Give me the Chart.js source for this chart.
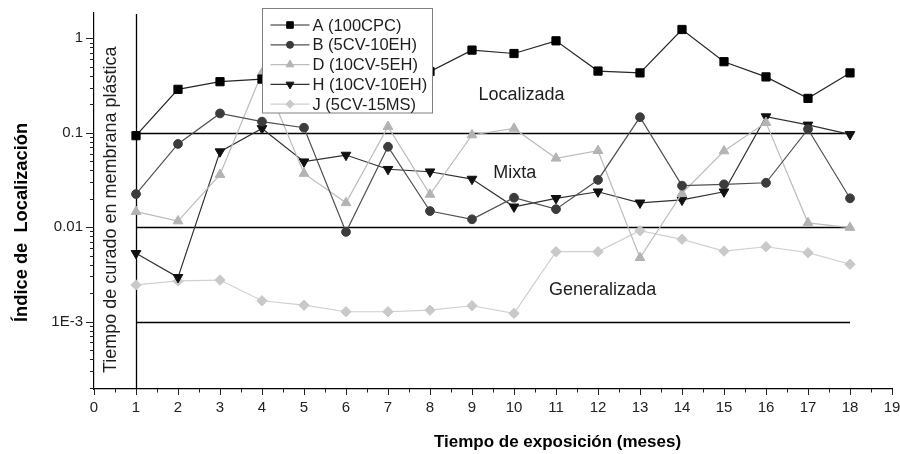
<!DOCTYPE html>
<html>
<head>
<meta charset="utf-8">
<script src="https://cdn.jsdelivr.net/npm/chart.js@4.4.0/dist/chart.umd.min.js"></script>
<style>
html,body{margin:0;padding:0;background:#fff;}
#wrap{width:900px;height:454px;position:relative;}
</style>
</head>
<body>
<div id="wrap"><canvas id="c" width="900" height="454"></canvas></div>
<script>
// ---- data ----
const months = [1,2,3,4,5,6,7,8,9,10,11,12,13,14,15,16,17,18];
const serieA = [0.093,0.288,0.347,0.37,0.45,0.5,0.6,0.445,0.75,0.69,0.94,0.45,0.43,1.24,0.565,0.39,0.231,0.43];
const serieB = [0.0224,0.076,0.16,0.131,0.113,0.0089,0.071,0.0148,0.0121,0.0205,0.0155,0.0316,0.146,0.0275,0.0284,0.0295,0.109,0.0202];
const serieD = [0.0146,0.0116,0.036,0.43,0.037,0.0181,0.116,0.0222,0.0946,0.111,0.0536,0.0645,0.00474,0.0228,0.064,0.128,0.0111,0.0099];
const serieH = [0.00528,0.00294,0.063,0.111,0.0493,0.058,0.041,0.0386,0.0323,0.0164,0.0202,0.0237,0.0181,0.0194,0.0237,0.148,0.121,0.096];
const serieJ = [0.00244,0.00269,0.00275,0.00166,0.00149,0.00127,0.00127,0.00132,0.00147,0.00122,0.0055,0.0055,0.00916,0.00743,0.00558,0.0062,0.00536,0.00404];
const seriesNames = ['A (100CPC)','B (5CV-10EH)','D (10CV-5EH)','H (10CV-10EH)','J (5CV-15MS)'];
const decadeValues = [1,0.1,0.01,0.001];
const decadeLabels = ['1','0.1','0.01','1E-3'];
const zoneLimits = [0.1,0.01,0.001];
const zoneNames = ['Localizada','Mixta','Generalizada'];
const zoneAnchorX = [10.18,10.02,12.11];
const zoneAnchorY = [0.25,0.037,0.00216];
const curingLabel = 'Tiempo de curado en membrana plástica';
const yTitle = 'Índice de  Localización';
const xTitle = 'Tiempo de exposición (meses)';
const yMin = 1.93e-4, yMax = 1.876, xMin = 0, xMax = 19;

const FONT = '"Liberation Sans", Arial, Helvetica, sans-serif';

function mk(label, values, marker, line, style, radius, rotation){
  return {
    label: label,
    data: months.map((m,i)=>({x:m, y:values[i]})),
    borderColor: line,
    backgroundColor: marker,
    pointBackgroundColor: marker,
    pointBorderColor: marker,
    pointStyle: style,
    pointRadius: radius,
    pointHoverRadius: radius,
    pointRotation: rotation || 0,
    pointBorderWidth: 1,
    borderWidth: 1.2,
    tension: 0,
    fill: false
  };
}

const datasets = [
  mk(seriesNames[0], serieA, '#000000', '#262626', 'rect', 5.8, 0),
  mk(seriesNames[1], serieB, '#3c3c3c', '#505050', 'circle', 4.4, 0),
  mk(seriesNames[2], serieD, '#b3b3b3', '#bcbcbc', 'triangle', 5.6, 0),
  mk(seriesNames[3], serieH, '#111111', '#303030', 'triangle', 5.6, 180),
  mk(seriesNames[4], serieJ, '#c9c9c9', '#d0d0d0', 'rectRot', 5.2, 0)
];

function drawMarker(ctx, ds, x, y, scaleF){
  const opts = {pointStyle: ds.pointStyle, rotation: ds.pointRotation, radius: ds.pointRadius*scaleF, borderWidth: 1};
  ctx.save();
  ctx.fillStyle = ds.pointBackgroundColor;
  ctx.strokeStyle = ds.pointBorderColor;
  ctx.lineWidth = 1;
  if (Chart.helpers && Chart.helpers.drawPoint) {
    Chart.helpers.drawPoint(ctx, opts, x, y);
  } else {
    ctx.beginPath(); ctx.arc(x,y,opts.radius,0,Math.PI*2); ctx.fill();
  }
  ctx.restore();
}

const refLinesPlugin = {
  id: 'refLines',
  beforeDatasetsDraw(chart){
    const {ctx, chartArea, scales:{x, y}} = chart;
    ctx.save();
    ctx.strokeStyle = '#000';
    ctx.lineWidth = 1.3;
    const x0 = x.getPixelForValue(months[0]);
    const x1 = x.getPixelForValue(months[months.length-1]);
    zoneLimits.forEach(v=>{
      const py = Math.round(y.getPixelForValue(v))+0.5;
      ctx.beginPath(); ctx.moveTo(x0, py); ctx.lineTo(x1, py); ctx.stroke();
    });
    ctx.beginPath();
    ctx.moveTo(Math.round(x0)+0.5, chartArea.top+1.5);
    ctx.lineTo(Math.round(x0)+0.5, chartArea.bottom);
    ctx.stroke();
    ctx.restore();
  }
};

const tickMarksPlugin = {
  id: 'tickMarks',
  afterDraw(chart){
    const {ctx, chartArea, scales:{x, y}} = chart;
    ctx.save();
    ctx.strokeStyle = '#222';
    ctx.lineWidth = 1;
    y.ticks.forEach(t=>{
      const py = Math.round(y.getPixelForValue(t.value))+0.5;
      const major = decadeValues.some(d=>Math.abs(d-t.value)/d < 1e-6);
      const len = major ? 8 : 4;
      ctx.beginPath(); ctx.moveTo(chartArea.left, py); ctx.lineTo(chartArea.left-len, py); ctx.stroke();
    });
    x.ticks.forEach(t=>{
      const px = Math.round(x.getPixelForValue(t.value))+0.5;
      ctx.beginPath(); ctx.moveTo(px, chartArea.bottom); ctx.lineTo(px, chartArea.bottom+6); ctx.stroke();
      if (t.value < xMax) {
        const pm = Math.round(x.getPixelForValue(t.value+0.5))+0.5;
        ctx.beginPath(); ctx.moveTo(pm, chartArea.bottom); ctx.lineTo(pm, chartArea.bottom+3.5); ctx.stroke();
      }
    });
    ctx.restore();
  }
};

const textsPlugin = {
  id: 'texts',
  afterDatasetsDraw(chart){
    const {ctx, chartArea, scales:{x, y}} = chart;
    ctx.save();
    ctx.fillStyle = '#1e1e1e';
    ctx.font = '18px ' + FONT;
    ctx.textAlign = 'center';
    ctx.textBaseline = 'middle';
    zoneNames.forEach((n,i)=>{
      ctx.fillText(n, x.getPixelForValue(zoneAnchorX[i]), y.getPixelForValue(zoneAnchorY[i]));
    });
    ctx.save();
    ctx.translate(chartArea.left + 17, (chartArea.top + chartArea.bottom)/2 + 9);
    ctx.rotate(-Math.PI/2);
    ctx.font = '18px ' + FONT;
    ctx.textAlign = 'center';
    ctx.textBaseline = 'middle';
    ctx.fillText(curingLabel, 0, 0);
    ctx.restore();
    ctx.restore();
  },
  afterDraw(chart){
    const {ctx} = chart;
    ctx.save();
    ctx.fillStyle = '#000';
    ctx.save();
    ctx.translate(22, 0);
    ctx.rotate(-Math.PI/2);
    ctx.font = 'bold 18.3px ' + FONT;
    ctx.textAlign = 'left';
    ctx.textBaseline = 'middle';
    ctx.fillText(yTitle, -322, 0);
    ctx.restore();
    ctx.font = 'bold 17px ' + FONT;
    ctx.textAlign = 'center';
    ctx.textBaseline = 'middle';
    ctx.fillText(xTitle, 557.5, 442);
    ctx.restore();
  }
};

const legendBoxPlugin = {
  id: 'legendBox',
  afterDatasetsDraw(chart){
    const ctx = chart.ctx;
    const bx = 262.5, by = 8.5, bw = 170, bh = 104.5;
    ctx.save();
    ctx.fillStyle = '#fff';
    ctx.fillRect(bx, by, bw, bh);
    ctx.strokeStyle = '#808080';
    ctx.lineWidth = 1;
    ctx.strokeRect(bx, by, bw, bh);
    ctx.font = '16.5px ' + FONT;
    ctx.textAlign = 'left';
    ctx.textBaseline = 'middle';
    chart.data.datasets.forEach((ds,i)=>{
      const ry = 25 + i*19.8;
      ctx.strokeStyle = ds.borderColor;
      ctx.lineWidth = 1.2;
      ctx.beginPath(); ctx.moveTo(270.5, ry); ctx.lineTo(309.5, ry); ctx.stroke();
      drawMarker(ctx, ds, 290, ry, 0.8);
      ctx.fillStyle = '#1e1e1e';
      ctx.fillText(ds.label, 312.5, ry + 1);
    });
    ctx.restore();
  }
};

new Chart(document.getElementById('c'), {
  type: 'line',
  data: { datasets: datasets },
  options: {
    responsive: false,
    animation: false,
    events: [],
    layout: { padding: { left: 0, right: 8, top: 12.5, bottom: 0 } },
    plugins: { legend: { display: false }, tooltip: { enabled: false }, title: { display: false } },
    scales: {
      x: {
        type: 'linear',
        min: xMin, max: xMax,
        grid: { display: false, drawTicks: false },
        border: { display: true, color: '#000', width: 1.2 },
        ticks: { stepSize: 1, padding: 10, color: '#222', font: { family: FONT, size: 15 }, maxRotation: 0, autoSkip: false },
        afterFit(s){ s.height = 65; s.paddingLeft = 0; s.paddingRight = 0; }
      },
      y: {
        type: 'logarithmic',
        min: yMin, max: yMax,
        grid: { display: false, drawTicks: false },
        border: { display: true, color: '#000', width: 1.2 },
        afterBuildTicks(s){
          const t = [];
          for (let e = -4; e <= 0; e++) {
            for (let m = 1; m <= 9; m++) {
              const v = m * Math.pow(10, e);
              if (v >= yMin && v <= yMax) t.push({ value: v });
            }
          }
          s.ticks = t;
        },
        ticks: {
          padding: 11, color: '#222', font: { family: FONT, size: 15 }, autoSkip: false,
          callback(v){
            const i = decadeValues.findIndex(d=>Math.abs(d-v)/d < 1e-6);
            return i >= 0 ? decadeLabels[i] : '';
          }
        },
        afterFit(s){ s.width = 94; s.paddingTop = 0; s.paddingBottom = 0; }
      }
    }
  },
  plugins: [refLinesPlugin, tickMarksPlugin, textsPlugin, legendBoxPlugin]
});
</script>
</body>
</html>
